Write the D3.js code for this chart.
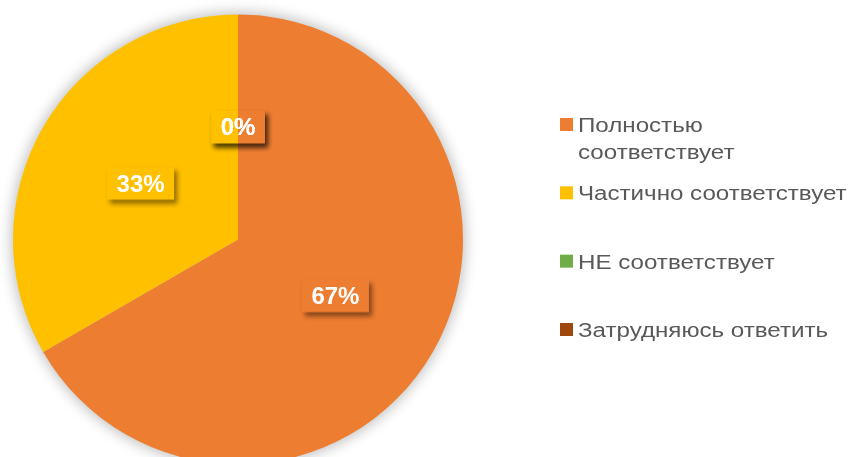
<!DOCTYPE html>
<html><head><meta charset="utf-8">
<script src="https://cdn.jsdelivr.net/npm/d3@7"></script>
<style>
html,body{margin:0;padding:0;background:#fff;}
svg{display:block;}
text{font-family:"Liberation Sans",Arial,sans-serif;}
</style></head>
<body><svg id="chart" width="851" height="457"></svg>
<script>
const categories = ["Полностью соответствует", "Частично соответствует", "НЕ соответствует", "Затрудняюсь ответить"];
const values = [2, 1, 0, 0];
const colors = ["#ED7D31", "#FFC000", "#70AD47", "#9E480E"];

const W = 851, H = 457;
const cx = 238, cy = 239.5, R = 225;
const svg = d3.select("#chart");
const defs = svg.append("defs");

const glow = defs.append("filter").attr("id","glow").attr("x","-20%").attr("y","-20%").attr("width","140%").attr("height","140%");
glow.append("feGaussianBlur").attr("stdDeviation",7);
const blur = defs.append("filter").attr("id","lblShadow").attr("x","-50%").attr("y","-50%").attr("width","200%").attr("height","200%");
blur.append("feGaussianBlur").attr("stdDeviation",2.5);

const total = d3.sum(values);
const pie = d3.pie().sort(null).value(d => d.v).startAngle(0).endAngle(2*Math.PI);
const data = categories.map((c,i)=>({c, v: values[i], col: colors[i]}));
const arcs = pie(data);
const arc = d3.arc().innerRadius(0).outerRadius(R);
const labelArc = d3.arc().innerRadius(R*0.5).outerRadius(R*0.5);

const g = svg.append("g").attr("transform", `translate(${cx},${cy})`);
g.append("circle").attr("r", R+2).attr("fill","#000").attr("opacity",0.25).attr("filter","url(#glow)");

g.selectAll("path.slice").data(arcs.filter(d=>d.data.v>0)).join("path")
  .attr("class","slice").attr("d", arc).attr("fill", d=>d.data.col);

// labels
const fmt = d => Math.round(d.data.v/total*100) + "%";
const lblG = g.append("g");
const texts = lblG.selectAll("text").data(arcs).join("text")
  .attr("transform", d=>`translate(${labelArc.centroid(d)})`)
  .attr("text-anchor","middle").attr("dy","0.35em")
  .attr("fill","#fff").attr("font-weight","bold").attr("font-size",24)
  .text(fmt);
const boxes = [];
texts.each(function(d){
  const w = this.getComputedTextLength();
  const [x,y] = labelArc.centroid(d);
  boxes.push({x: x - w/2 - 9.5, y: y - 16.5, w: w + 19, h: 33});
});
const mask = defs.append("mask").attr("id","boxMask").attr("maskUnits","userSpaceOnUse")
  .attr("x",-W).attr("y",-H).attr("width",2*W).attr("height",2*H);
mask.append("rect").attr("x",-W).attr("y",-H).attr("width",2*W).attr("height",2*H).attr("fill","#fff");
mask.selectAll("rect.b").data(boxes).join("rect").attr("class","b")
  .attr("x",d=>d.x).attr("y",d=>d.y).attr("width",d=>d.w).attr("height",d=>d.h).attr("fill","#000");
const shG = g.insert("g", () => lblG.node()).attr("mask","url(#boxMask)");
shG.selectAll("rect").data(boxes).join("rect")
  .attr("x",d=>d.x+3).attr("y",d=>d.y+4).attr("width",d=>d.w).attr("height",d=>d.h)
  .attr("fill","#000").attr("opacity",0.45).attr("filter","url(#lblShadow)");

// legend
const legX = 560, sq = 13, textX = 578, maxW = 272, lineH = 26.6, sx = 1.15;
const yPos = d3.scalePoint().domain(categories).range([118, 323]);
const leg = svg.append("g");
categories.forEach((c,i)=>{
  const top = yPos(c);
  leg.append("rect").attr("x",legX).attr("y",top).attr("width",sq).attr("height",sq).attr("fill",colors[i]);
  const t = leg.append("text").attr("transform",`translate(${textX},${top+14})scale(${sx},1)`)
    .attr("font-size",21).attr("fill","#595959");
  const words = c.split(" ");
  let line = [], tspan = t.append("tspan").attr("x",0).attr("dy",0);
  words.forEach(w=>{
    line.push(w);
    tspan.text(line.join(" "));
    if (tspan.node().getComputedTextLength()*sx > maxW && line.length>1){
      line.pop(); tspan.text(line.join(" "));
      line=[w];
      tspan = t.append("tspan").attr("x",0).attr("dy",lineH).text(w);
    }
  });
});
</script></body></html>
